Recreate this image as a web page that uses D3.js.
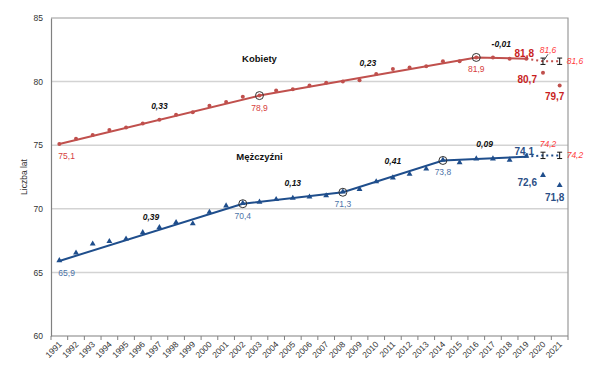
<!DOCTYPE html>
<html>
<head>
<meta charset="utf-8">
<script src="https://cdn.jsdelivr.net/npm/d3@7"></script>
<style>
  body { margin: 0; background: #fff; }
  svg { font-family: "Liberation Sans", Arial, sans-serif; }
</style>
</head>
<body>
<svg id="svg"></svg>
<script>
var years = ["1991","1992","1993","1994","1995","1996","1997","1998","1999","2000",
  "2001","2002","2003","2004","2005","2006","2007","2008","2009","2010",
  "2011","2012","2013","2014","2015","2016","2017","2018","2019","2020","2021"];

var women = [75.1, 75.5, 75.8, 76.2, 76.4, 76.7, 77.0, 77.4, 77.6, 78.1,
  78.4, 78.8, 78.9, 79.3, 79.4, 79.7, 79.9, 80.0, 80.1, 80.6,
  81.0, 81.1, 81.2, 81.6, 81.6, 81.9, 81.9, 81.8, 81.8, 80.7, 79.7];
var men = [65.9, 66.5, 67.2, 67.4, 67.6, 68.1, 68.5, 68.9, 68.8, 69.7,
  70.2, 70.4, 70.5, 70.7, 70.8, 70.9, 71.0, 71.3, 71.5, 72.1,
  72.4, 72.7, 73.1, 73.8, 73.6, 73.9, 73.9, 73.8, 74.1, 72.6, 71.8];

// piecewise trend breakpoints
var womenBreakYears = ["1991", "2003", "2016", "2019"];
var womenBreakValues = [75.1, 78.9, 81.9, 81.8];
var womenSlopes = ["0,33", "0,23", "-0,01"];
var menBreakYears = ["1991", "2002", "2008", "2014", "2019"];
var menBreakValues = [65.9, 70.4, 71.3, 73.8, 74.1];
var menSlopes = ["0,39", "0,13", "0,41", "0,09"];

// projection (no pandemic) for 2020-2021
var projYears = ["2019", "2020", "2021"];
var womenProj = [81.8, 81.6, 81.6];
var menProj = [74.1, 74.2, 74.2];
var projError = 0.25;

var yTicks = [60, 65, 70, 75, 80, 85];

var width = 605, height = 372;
var svg = d3.select("#svg").attr("width", width).attr("height", height);

var x = d3.scaleBand().domain(years).range([51, 568]);
var y = d3.scaleLinear().domain([60, 85]).range([336, 18]);
function cx(d) { return x(d) + x.bandwidth() / 2; }
function fmt(v) { return v.toFixed(1).replace(".", ","); }

var wCol = "#c0504d", mCol = "#1f4e8c";

// gridlines
svg.append("g").selectAll("line")
  .data(yTicks.filter(function(t) { return t > 60 && t < 85; }))
  .enter().append("line")
    .attr("x1", 51).attr("x2", 568)
    .attr("y1", function(d) { return y(d); })
    .attr("y2", function(d) { return y(d); })
    .attr("stroke", "#d3d3d3").attr("stroke-width", 1.5);

// plot border (top, right)
svg.append("path")
  .attr("d", "M51," + y(85) + "H568V" + y(60))
  .attr("fill", "none").attr("stroke", "#9a9a9a").attr("stroke-width", 1.2);

// y axis
var yAxis = svg.append("g")
  .attr("transform", "translate(51,0)")
  .call(d3.axisLeft(y).tickValues(yTicks).tickSize(0).tickPadding(8));
yAxis.select(".domain").attr("stroke", "#808080").attr("stroke-width", 1.2);
yAxis.selectAll("text").attr("font-size", 8.5).attr("fill", "#333")
  .attr("font-family", "Liberation Sans, Arial, sans-serif");

svg.append("text")
  .attr("transform", "translate(27," + ((y(60) + y(85)) / 2) + ") rotate(-90)")
  .attr("text-anchor", "middle")
  .attr("font-size", 8.5).attr("fill", "#333")
  .text("Liczba lat");

// x axis
var xAxis = svg.append("g").attr("transform", "translate(0," + y(60) + ")");
xAxis.append("line").attr("x1", 51).attr("x2", 568)
  .attr("stroke", "#808080").attr("stroke-width", 1.2);
xAxis.selectAll(".tk")
  .data(years.concat(["end"]))
  .enter().append("line")
    .attr("class", "tk")
    .attr("x1", function(d) { return d === "end" ? 568 : x(d); })
    .attr("x2", function(d) { return d === "end" ? 568 : x(d); })
    .attr("y1", 0).attr("y2", 4)
    .attr("stroke", "#808080");
xAxis.selectAll(".lbl")
  .data(years)
  .enter().append("text")
    .attr("class", "lbl")
    .attr("text-anchor", "end")
    .attr("font-size", 8.5).attr("fill", "#333")
    .attr("transform", function(d) {
      return "translate(" + (cx(d) + 3) + ",9) rotate(-45)";
    })
    .text(function(d) { return d; });

// markers: women circles, men triangles
svg.append("g").selectAll("circle")
  .data(years)
  .enter().append("circle")
    .attr("cx", function(d) { return cx(d); })
    .attr("cy", function(d, i) { return y(women[i]); })
    .attr("r", 2)
    .attr("fill", wCol);

var tri = d3.symbol().type(d3.symbolTriangle).size(15);
svg.append("g").selectAll("path")
  .data(years)
  .enter().append("path")
    .attr("d", tri)
    .attr("transform", function(d, i) {
      return "translate(" + cx(d) + "," + (y(men[i]) - 0.5) + ")";
    })
    .attr("fill", mCol);

// trend lines
var line = d3.line()
  .x(function(d) { return cx(d[0]); })
  .y(function(d) { return y(d[1]); });

function trend(bYears, bVals, col) {
  svg.append("path")
    .datum(d3.zip(bYears, bVals))
    .attr("d", line)
    .attr("fill", "none").attr("stroke", col).attr("stroke-width", 2);
}
trend(womenBreakYears, womenBreakValues, wCol);
trend(menBreakYears, menBreakValues, mCol);

// projection dotted lines + error bars
function proj(vals, col) {
  svg.append("path")
    .datum(d3.zip(projYears, vals))
    .attr("d", line)
    .attr("fill", "none").attr("stroke", col)
    .attr("stroke-width", 2).attr("stroke-dasharray", "2,3");
  var eb = svg.append("g").selectAll("g")
    .data(d3.zip(projYears, vals).slice(1))
    .enter().append("g")
      .attr("stroke", "#111").attr("stroke-width", 1);
  eb.append("line")
    .attr("x1", function(d) { return cx(d[0]); })
    .attr("x2", function(d) { return cx(d[0]); })
    .attr("y1", function(d) { return y(d[1] + projError); })
    .attr("y2", function(d) { return y(d[1] - projError); });
  [projError, -projError].forEach(function(e) {
    eb.append("line")
      .attr("x1", function(d) { return cx(d[0]) - 2.5; })
      .attr("x2", function(d) { return cx(d[0]) + 2.5; })
      .attr("y1", function(d) { return y(d[1] + e); })
      .attr("y2", function(d) { return y(d[1] + e); });
  });
}
proj(womenProj, wCol);
proj(menProj, mCol);

// open circles at breakpoints
function rings(bYears, bVals) {
  var inner = d3.zip(bYears, bVals).slice(1, bYears.length - 1);
  svg.append("g").selectAll("circle")
    .data(inner)
    .enter().append("circle")
      .attr("cx", function(d) { return cx(d[0]); })
      .attr("cy", function(d) { return y(d[1]); })
      .attr("r", 4)
      .attr("fill", "none").attr("stroke", "#333").attr("stroke-width", 1);
}

function breakLabels(bYears, bVals, col) {
  var pts = d3.zip(bYears, bVals).slice(0, bYears.length - 1);
  svg.append("g").selectAll("text")
    .data(pts)
    .enter().append("text")
      .attr("x", function(d, i) { return i === 0 ? cx(d[0]) - 1 : cx(d[0]); })
      .attr("y", function(d) { return y(d[1]) + 15; })
      .attr("text-anchor", function(d, i) { return i === 0 ? "start" : "middle"; })
      .attr("font-size", 8.5).attr("fill", col)
      .text(function(d) { return fmt(d[1]); });
}

function slopeLabels(bYears, bVals, slopes, dy) {
  var segs = slopes.map(function(s, i) {
    var xm = (cx(bYears[i]) + cx(bYears[i + 1])) / 2;
    var ym = (y(bVals[i]) + y(bVals[i + 1])) / 2;
    return { s: s, x: xm, y: ym };
  });
  svg.append("g").selectAll("text")
    .data(segs)
    .enter().append("text")
      .attr("x", function(d) { return d.x; })
      .attr("y", function(d) { return d.y + dy; })
      .attr("text-anchor", "middle")
      .attr("font-size", 8.5).attr("font-weight", "bold").attr("font-style", "italic")
      .attr("fill", "#111")
      .text(function(d) { return d.s; });
}

rings(womenBreakYears, womenBreakValues);
rings(menBreakYears, menBreakValues);
breakLabels(womenBreakYears, womenBreakValues, "#d6403d");
breakLabels(menBreakYears, menBreakValues, "#4d73a8");
slopeLabels(womenBreakYears, womenBreakValues, womenSlopes, -11);
slopeLabels(menBreakYears, menBreakValues, menSlopes, -12);

// series names
svg.append("text").attr("x", cx("2003")).attr("y", y(81.7) + 2.5)
  .attr("text-anchor", "middle").attr("font-size", 9.5).attr("font-weight", "bold")
  .attr("fill", "#111").text("Kobiety");
svg.append("text").attr("x", cx("2003")).attr("y", y(74.2) + 5)
  .attr("text-anchor", "middle").attr("font-size", 9.5).attr("font-weight", "bold")
  .attr("fill", "#111").text("Mężczyźni");

// end-of-series labels (2019 and observed 2020, 2021)
function endLabels(vals, col) {
  var n = years.length;
  var g = svg.append("g").attr("font-size", 10).attr("font-weight", "bold").attr("fill", col);
  g.append("text").attr("x", cx(years[n - 3]) - 2).attr("y", y(vals[n - 3]) - 1.5)
    .attr("text-anchor", "middle").text(fmt(vals[n - 3]));
  g.append("text").attr("x", cx(years[n - 2]) - 6).attr("y", y(vals[n - 2]) + 10.5)
    .attr("text-anchor", "end").text(fmt(vals[n - 2]));
  g.append("text").attr("x", cx(years[n - 1]) - 5).attr("y", y(vals[n - 1]) + 15)
    .attr("text-anchor", "middle").text(fmt(vals[n - 1]));
}
endLabels(women, "#c81e1e");
endLabels(men, "#2b4f86");

// projected value labels
function projLabels(vals, leader) {
  var g = svg.append("g").attr("font-size", 8.5).attr("font-style", "italic").attr("fill", "#ff3b3b");
  g.append("text").attr("x", cx("2020") + 5).attr("y", y(vals[1]) - 8)
    .attr("text-anchor", "middle").text(fmt(vals[1]));
  g.append("text").attr("x", cx("2021") + 7).attr("y", y(vals[2]) + 3)
    .attr("text-anchor", "start").text(fmt(vals[2]));
  if (leader) {
    svg.append("line")
      .attr("x1", cx("2020") + 1).attr("y1", y(vals[1]) - 1)
      .attr("x2", cx("2020") + 5).attr("y2", y(vals[1]) - 7)
      .attr("stroke", "#222").attr("stroke-width", 0.8);
  }
}
projLabels(womenProj, true);
projLabels(menProj, false);
</script>
</body>
</html>
